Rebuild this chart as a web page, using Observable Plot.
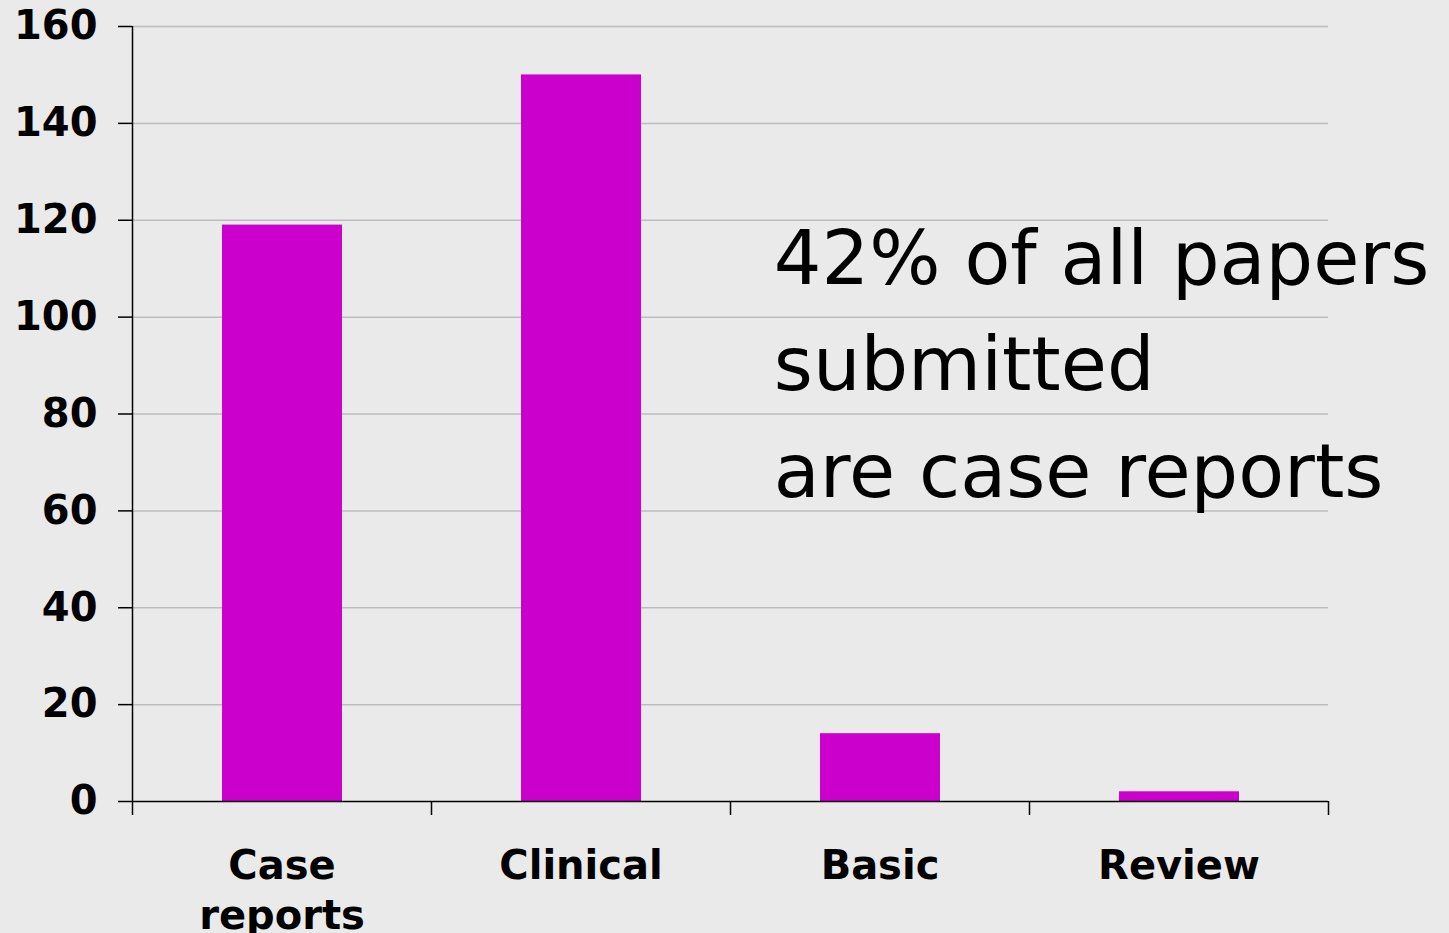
<!DOCTYPE html>
<html><head><meta charset="utf-8">
<script src="https://cdn.jsdelivr.net/npm/d3@7"></script>
<script src="https://cdn.jsdelivr.net/npm/@observablehq/plot@0.6"></script>
<style>html,body{margin:0;padding:0;background:#eaeaea;overflow:hidden}</style>
</head><body><div id="chart"></div>
<script>
const categories = ["Case reports", "Clinical", "Basic", "Review"];
const categoryLabels = ["Case\nreports", "Clinical", "Basic", "Review"];
const counts = [119, 150, 14, 2];
const yTicks = [0, 20, 40, 60, 80, 100, 120, 140, 160];
const annotationLines = ["42% of all papers", "submitted", "are case reports"];
const annotation = [{x: 2.145, y: 122.5, text: annotationLines.join("\n")}];

const data = categories.map((c, i) => ({category: c, value: counts[i], x1: i, x2: i + 1}));
const boundaries = d3.range(categories.length + 1);
const centers = categories.map((c, i) => i + 0.5);

const plot = Plot.plot({
  width: 1449, height: 933,
  marginLeft: 132, marginRight: 121, marginTop: 26, marginBottom: 132,
  style: {background: "#eaeaea", fontFamily: "Verdana, 'DejaVu Sans', sans-serif", fontSize: "40px", fontWeight: "bold", color: "#000", overflow: "visible"},
  x: {type: "linear", domain: [0, categories.length]},
  y: {domain: [0, 160]},
  marks: [
    Plot.gridY(yTicks.filter(t => t > 0), {stroke: "#bdbdbd", strokeOpacity: 1, strokeWidth: 1.5}),
    Plot.rectY(data, {x1: "x1", x2: "x2", y: "value", insetLeft: 90, insetRight: 89, fill: "#cc00cc"}),
    Plot.ruleY([0], {stroke: "#000", strokeWidth: 1.5}),
    Plot.ruleX([0], {stroke: "#000", strokeWidth: 1.5}),
    Plot.axisY({ticks: yTicks, tickSize: 14, tickPadding: 21, tickFormat: d => String(d), label: null, strokeWidth: 1.5}),
    Plot.axisX({ticks: boundaries, tickSize: 14, tickFormat: () => "", label: null, strokeWidth: 1.5}),
    Plot.axisX({ticks: centers, tickSize: 0, tickPadding: 42, tickFormat: v => categoryLabels[Math.floor(v)], lineHeight: 1.25, label: null}),
    Plot.text(annotation, {x: "x", y: "y", text: "text", textAnchor: "start", lineAnchor: "top", lineHeight: 1.42, fontSize: 75, fontWeight: "normal", fill: "#000"})
  ]
});
document.getElementById("chart").appendChild(plot);
</script>
</body></html>
